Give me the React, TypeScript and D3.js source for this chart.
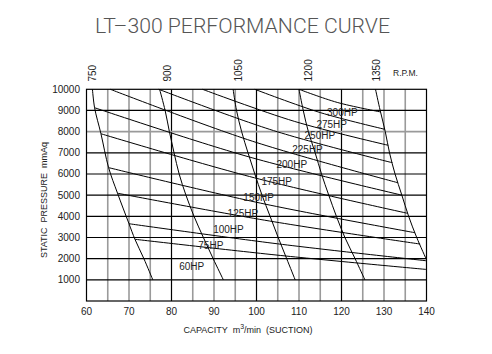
import React, { useEffect, useRef } from "react";
import * as d3 from "d3";

const W = 492;
const H = 354;

const xTicks = [60, 70, 80, 90, 100, 110, 120, 130, 140];
const yTicks = [1000, 2000, 3000, 4000, 5000, 6000, 7000, 8000, 9000, 10000];
const vGrid = [65, 70, 75, 80, 85, 90, 95, 100, 105, 110, 115, 120, 125, 130, 135];
const vGridDark = [80, 100, 120];
const hGridLight = [8000];

// RPM curves: [capacity, pressure]
const rpmNames = ["750", "900", "1050", "1200", "1350"];
const rpmLabelX = [62.3, 79.8, 96.6, 113.1, 129.1];
const rpm750: [number, number][] = [[61.4, 10000], [61.9, 9130], [63.4, 7900], [65.2, 6300], [67.3, 5090], [70, 3650], [71.4, 2915], [73.5, 2000], [75.6, 1000]];
const rpm900: [number, number][] = [[77.2, 10000], [78.5, 9000], [79.5, 8000], [80.6, 7000], [81.8, 6000], [83.4, 5000], [85.3, 4000], [87.5, 3000], [89.8, 2000], [92.2, 1000]];
const rpm1050: [number, number][] = [[94.5, 10000], [95.3, 9000], [96.5, 8000], [98, 7000], [99.6, 6000], [101.3, 5000], [103.2, 4000], [105.1, 3000], [107.1, 2000], [109.1, 1000]];
const rpm1200: [number, number][] = [[110, 10000], [111, 9000], [112.2, 8000], [113.8, 7000], [115.3, 6000], [117, 5000], [118.8, 4000], [120.8, 3000], [123.2, 2000], [125.5, 1000]];
const rpm1350: [number, number][] = [[128, 10000], [129.1, 9000], [130.3, 8000], [131.3, 7000], [132.6, 6000], [134.2, 5000], [135.8, 4000], [137.7, 3000], [140, 1950]];
const rpmCurves = [rpm750, rpm900, rpm1050, rpm1200, rpm1350];

// Horsepower curves
const hpNames = ["300HP", "275HP", "250HP", "225HP", "200HP", "175HP", "150HP", "125HP", "100HP", "75HP", "60HP"];
const hp300: [number, number][] = [[110, 10000], [119, 9380], [129.2, 8930]];
const hp275: [number, number][] = [[99.6, 10000], [115, 8900], [130.2, 8110]];
const hp250: [number, number][] = [[87.3, 10000], [109, 8480], [131, 7355]];
const hp225: [number, number][] = [[77, 10000], [104, 8050], [132, 6530]];
const hp200: [number, number][] = [[65.6, 10000], [99, 7550], [133.3, 5585]];
const hp175: [number, number][] = [[61.9, 9130], [98, 6820], [134.2, 5000]];
const hp150: [number, number][] = [[63.4, 7900], [99.5, 5820], [135.6, 4140]];
const hp125: [number, number][] = [[65.2, 6300], [101, 4620], [137.3, 3225]];
const hp100: [number, number][] = [[67.3, 5090], [103, 3780], [138.5, 2690]];
const hp75: [number, number][] = [[70, 3650], [105, 2700], [140, 1900]];
const hp60: [number, number][] = [[71.4, 2915], [105.7, 2150], [140, 1490]];
const hpCurves = [hp300, hp275, hp250, hp225, hp200, hp175, hp150, hp125, hp100, hp75, hp60];
const hpLabelX = [120.2, 117.7, 114.9, 112.0, 108.3, 104.75, 100.5, 96.8, 93.4, 89.25, 84.75];
const hpLabelY = [8740, 8170, 7652, 6991, 6282, 5479, 4724, 3991, 3212, 2456, 1464];

export default function App() {
  const ref = useRef<SVGSVGElement>(null);

  useEffect(() => {
    const svg = d3.select(ref.current);
    svg.selectAll("*").remove();
    const x = d3.scaleLinear().domain([60, 140]).range([86.5, 426.5]);
    const y = d3.scaleLinear().domain([0, 10000]).range([301, 89.3]);
    const font = "'Liberation Sans', Arial, sans-serif";

    svg.append("rect").attr("width", W).attr("height", H).attr("fill", "#fff");

    // title
    svg.append("text")
      .attr("x", 242.5).attr("y", 32.7)
      .attr("text-anchor", "middle")
      .attr("font-family", "Roboto, 'DejaVu Sans', sans-serif")
      .attr("font-weight", 300)
      .attr("font-size", 20)
      .attr("fill", "#555")
      .attr("textLength", 295)
      .attr("lengthAdjust", "spacingAndGlyphs")
      .text("LT\u2013300  PERFORMANCE  CURVE");

    const g = svg.append("g");
    // vertical grid
    g.selectAll("line.vg").data(vGrid).enter().append("line")
      .attr("x1", (d) => x(d)).attr("x2", (d) => x(d))
      .attr("y1", y(0)).attr("y2", y(10000))
      .attr("stroke", (d) => (vGridDark.includes(d) ? "#000" : "#9a9a9a"))
      .attr("stroke-width", (d) => (vGridDark.includes(d) ? 1.2 : 1.6));
    // horizontal grid
    g.selectAll("line.hg").data(yTicks.filter((d) => d < 10000)).enter().append("line")
      .attr("x1", x(60)).attr("x2", x(140))
      .attr("y1", (d) => y(d)).attr("y2", (d) => y(d))
      .attr("stroke", (d) => (hGridLight.includes(d) ? "#9a9a9a" : "#000"))
      .attr("stroke-width", (d) => (hGridLight.includes(d) ? 1.6 : 1.2));
    // frame
    g.append("rect")
      .attr("x", x(60)).attr("y", y(10000))
      .attr("width", x(140) - x(60)).attr("height", y(0) - y(10000))
      .attr("fill", "none").attr("stroke", "#000").attr("stroke-width", 1.2);

    const line = d3.line<[number, number]>()
      .x((d) => x(d[0])).y((d) => y(d[1]))
      .curve(d3.curveCatmullRom.alpha(0.5));

    g.selectAll("path.hp").data(hpCurves).enter().append("path")
      .attr("d", (d) => line(d))
      .attr("fill", "none").attr("stroke", "#000").attr("stroke-width", 1);
    g.selectAll("path.rpm").data(rpmCurves).enter().append("path")
      .attr("d", (d) => line(d))
      .attr("fill", "none").attr("stroke", "#000").attr("stroke-width", 1);

    // HP labels
    g.selectAll("text.hpl").data(hpNames).enter().append("text")
      .attr("x", (_, i) => x(hpLabelX[i])).attr("y", (_, i) => y(hpLabelY[i]))
      .attr("text-anchor", "middle")
      .attr("font-family", font).attr("font-size", 10).attr("fill", "#222")
      .text((d) => d);

    // RPM labels
    g.selectAll("text.rpml").data(rpmNames).enter().append("text")
      .attr("transform", (_, i) => `translate(${x(rpmLabelX[i])},81.5) rotate(-90)`)
      .attr("font-family", font).attr("font-size", 10).attr("fill", "#222")
      .text((d) => d);
    svg.append("text").attr("x", 393).attr("y", 76)
      .attr("font-family", font).attr("font-size", 8.5).attr("fill", "#222")
      .text("R.P.M.");

    // y tick labels
    g.selectAll("text.yt").data(yTicks).enter().append("text")
      .attr("x", 80).attr("y", (d) => y(d) + 3.5)
      .attr("text-anchor", "end")
      .attr("font-family", font).attr("font-size", 10).attr("fill", "#222")
      .text((d) => String(d));
    // x tick labels
    g.selectAll("text.xt").data(xTicks).enter().append("text")
      .attr("x", (d) => x(d)).attr("y", 314.5)
      .attr("text-anchor", "middle")
      .attr("font-family", font).attr("font-size", 10).attr("fill", "#222")
      .text((d) => String(d));

    // axis titles
    svg.append("text")
      .attr("transform", "translate(46.5,200) rotate(-90)")
      .attr("text-anchor", "middle")
      .attr("font-family", font).attr("font-size", 9).attr("fill", "#222")
      .attr("xml:space", "preserve")
      .text("STATIC  PRESSURE  mmAq");

    const xt = svg.append("text")
      .attr("x", 183.5).attr("y", 333)
      .attr("font-family", font).attr("font-size", 9).attr("fill", "#222")
      .attr("xml:space", "preserve");
    xt.append("tspan").text("CAPACITY  m");
    xt.append("tspan").attr("font-size", 7).attr("dy", -4).text("3");
    xt.append("tspan").attr("dy", 4).text("/min  (SUCTION)");
  }, []);

  return (
    <svg
      ref={ref}
      width={W}
      height={H}
      style={{ position: "absolute", left: 0, top: 0, background: "#fff" }}
    />
  );
}
